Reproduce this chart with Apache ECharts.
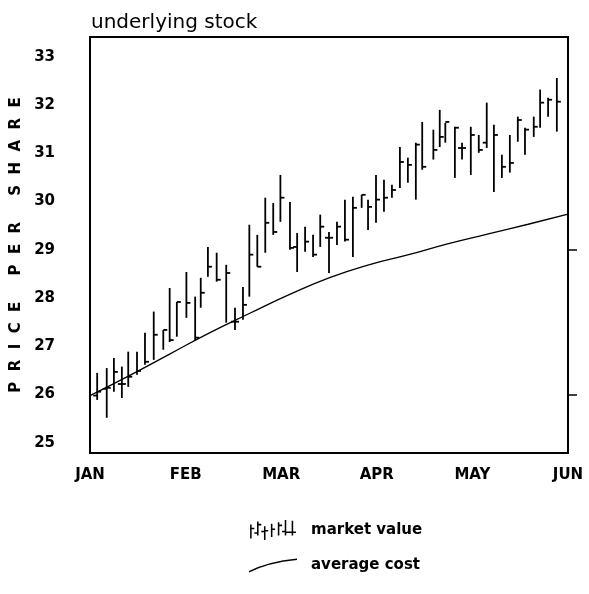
<!DOCTYPE html>
<html>
<head>
<meta charset="utf-8">
<script src="https://cdn.jsdelivr.net/npm/echarts@6/dist/echarts.min.js"></script>
<style>
  html, body { margin: 0; padding: 0; background: #fff; }
  #chart { width: 589px; height: 594px; }
</style>
</head>
<body>
<div id="chart"></div>
<script>
// month labels along the bottom, one every 12 sessions
const months = ['JAN', 'FEB', 'MAR', 'APR', 'MAY', 'JUN'];
const yTicks = [25, 26, 27, 28, 29, 30, 31, 32, 33];
const rightTicks = [26, 29];

// market value bars (session position, open tick, high, low, close tick)
const session = [0.9, 2.1, 3.0, 4.0, 4.8, 5.9, 6.9, 8.0, 9.2, 10.0,
  10.9, 12.1, 13.2, 13.9, 14.8, 15.9, 17.1, 18.2, 19.2, 20.0,
  21.0, 22.0, 23.0, 23.9, 25.1, 26.0, 27.0, 28.0, 28.9, 30.0,
  31.0, 32.0, 33.0, 34.1, 34.9, 35.9, 36.9, 37.9, 38.9, 39.9,
  40.9, 41.7, 43.1, 43.9, 44.6, 45.8, 46.7, 47.8, 48.8, 49.8,
  50.7, 51.7, 52.7, 53.7, 54.6, 55.7, 56.5, 57.5, 58.6];
const high = [26.45, 26.55, 26.76, 26.58, 26.89, 26.89, 27.28, 27.72, 27.34, 28.21,
  27.92, 28.54, 28.03, 28.42, 29.06, 28.94, 28.69, 27.80, 28.23, 29.52,
  29.31, 30.08, 29.97, 30.55, 29.99, 29.35, 29.48, 29.31, 29.73, 29.37,
  29.58, 30.04, 30.10, 30.14, 30.04, 30.55, 30.45, 30.35, 31.13, 30.91,
  31.22, 31.65, 31.49, 31.90, 31.63, 31.55, 31.22, 31.55, 31.38, 32.05,
  31.59, 30.97, 31.38, 31.76, 31.53, 31.76, 32.32, 32.15, 32.56];
const low = [25.89, 25.52, 26.06, 25.93, 26.16, 26.41, 26.62, 26.72, 26.93, 27.09,
  27.20, 27.59, 27.13, 27.80, 28.44, 28.34, 27.49, 27.34, 27.55, 28.03,
  28.65, 28.94, 29.31, 29.58, 29.00, 28.54, 28.96, 28.85, 29.06, 28.52,
  29.10, 29.17, 28.85, 29.87, 29.41, 29.56, 29.79, 30.08, 30.28, 30.39,
  30.04, 30.66, 30.87, 31.13, 31.22, 30.49, 30.87, 30.55, 31.01, 31.11,
  30.20, 30.49, 30.60, 31.24, 30.97, 31.34, 31.53, 31.76, 31.45];
const close = [26.06, 26.14, 26.47, 26.22, 26.37, 26.49, 26.68, 27.24, 27.34, 27.13,
  27.92, 27.90, 27.18, 28.11, 28.65, 28.38, 28.52, 27.51, 27.86, 28.90,
  28.65, 29.56, 29.37, 30.08, 29.04, null, 29.17, 28.90, 29.48, 29.25,
  29.48, 29.21, 29.87, 30.14, 29.89, 30.04, 30.08, 30.24, 30.82, 30.76,
  31.18, 30.72, 31.07, 31.34, 31.65, 31.53, 31.11, 31.38, 31.07, null,
  31.38, 30.72, 30.80, 31.69, 31.49, 31.55, 32.05, 32.11, 32.07];
const open = [25.98, 26.12, null, 26.22, null, null, null, null, null, null,
  null, null, null, null, null, null, null, 27.51, null, null,
  null, null, null, null, null, 29.06, null, null, null, 29.25,
  null, null, null, null, null, null, null, null, null, null,
  null, null, null, null, null, null, 31.11, null, null, 31.22,
  null, null, null, null, null, null, null, null, null];

// average cost curve
const costSession = [0, 5, 10, 15, 20, 25, 30, 35, 40, 45, 50, 55, 60];
const avgCost = [25.98, 26.40, 26.84, 27.28, 27.68, 28.07, 28.42, 28.69, 28.90, 29.13, 29.33, 29.53, 29.74];

const font = 'DejaVu Sans';
const ohlcIcon = 'path://M0,6h2v18h-2zM2,10h3.5v2h-3.5z' +
  'M9,2h2v18h-2zM11,5h3.5v2h-3.5zM5.5,16h3.5v2h-3.5z' +
  'M18,8h2v18h-2zM14.5,14h3.5v2h-3.5zM20,13h3.5v2h-3.5z' +
  'M27,5h2v17h-2zM29,11h3.5v2h-3.5z' +
  'M36,3h2v17h-2zM38,6h3.5v2h-3.5z' +
  'M45,0h2v20h-2zM41.5,14h3.5v2h-3.5z' +
  'M54,1h2v19h-2zM47,15h7v2h-7zM56,15h3.5v2h-3.5z';
const curveIcon = 'path://M0,19Q20,9 50,6L50,7.4Q20,10.4 0,20.4z';

const barData = session.map((s, i) => [
  s,
  open[i] == null ? '-' : open[i],
  high[i],
  low[i],
  close[i] == null ? '-' : close[i]
]);

let myChart = echarts.init(document.getElementById('chart'));
let option = {
  backgroundColor: '#fff',
  animation: false,
  title: {
    text: 'underlying stock',
    left: 86,
    top: 8,
    textStyle: { color: '#000', fontFamily: font, fontSize: 20, fontWeight: 'normal' }
  },
  legend: {
    orient: 'vertical',
    left: 244,
    top: 515,
    itemWidth: 48,
    itemHeight: 20,
    itemGap: 18,
    textStyle: { color: '#000', fontFamily: font, fontSize: 15, fontWeight: 'bold', padding: [0, 0, 0, 9] },
    data: [
      { name: 'market value', icon: ohlcIcon },
      { name: 'average cost', icon: curveIcon }
    ]
  },
  grid: {
    left: 90,
    right: 21,
    top: 37,
    bottom: 141,
    show: true,
    borderColor: '#000',
    borderWidth: 2
  },
  xAxis: {
    type: 'value',
    min: 0,
    max: 60,
    interval: 12,
    axisLine: { show: false },
    axisTick: { show: false },
    splitLine: { show: false },
    axisLabel: {
      color: '#000',
      fontFamily: font,
      fontSize: 15,
      fontWeight: 'bold',
      margin: 15,
      formatter: v => months[Math.round(v / 12)]
    }
  },
  yAxis: [{
    type: 'value',
    min: 24.79,
    max: 33.41,
    name: 'P  R  I  C  E     P  E  R     S  H  A  R  E',
    nameLocation: 'middle',
    nameGap: 62,
    nameTextStyle: { color: '#000', fontFamily: font, fontSize: 15, fontWeight: 'bold' },
    axisLine: { show: false },
    axisTick: { show: false },
    splitLine: { show: false },
    axisLabel: {
      customValues: yTicks,
      color: '#000',
      fontFamily: font,
      fontSize: 15,
      fontWeight: 'bold',
      margin: 35
    }
  }, {
    type: 'value',
    position: 'right',
    min: 24.79,
    max: 33.41,
    axisLine: { show: false },
    splitLine: { show: false },
    axisLabel: { show: false },
    axisTick: {
      show: true,
      customValues: rightTicks,
      length: 9,
      lineStyle: { color: '#000', width: 1.5 }
    }
  }],
  series: [{
    name: 'market value',
    type: 'custom',
    itemStyle: { color: '#000' },
    dimensions: ['session', 'open', 'high', 'low', 'close'],
    encode: { x: 0, y: [2, 3] },
    data: barData,
    renderItem: function (params, api) {
      let x = api.value(0);
      let top = api.coord([x, api.value(2)]);
      let bottom = api.coord([x, api.value(3)]);
      let style = { stroke: '#000', lineWidth: 1.8 };
      let children = [{
        type: 'line',
        shape: { x1: top[0], y1: top[1], x2: bottom[0], y2: bottom[1] },
        style: style
      }];
      let o = api.value(1);
      let c = api.value(4);
      if (!isNaN(o)) {
        let p = api.coord([x, o]);
        children.push({ type: 'line', shape: { x1: p[0] - 4, y1: p[1], x2: p[0], y2: p[1] }, style: style });
      }
      if (!isNaN(c)) {
        let p = api.coord([x, c]);
        children.push({ type: 'line', shape: { x1: p[0], y1: p[1], x2: p[0] + 4, y2: p[1] }, style: style });
      }
      return { type: 'group', children: children };
    }
  }, {
    name: 'average cost',
    type: 'line',
    smooth: true,
    symbol: 'none',
    itemStyle: { color: '#000' },
    lineStyle: { color: '#000', width: 1.3 },
    data: costSession.map((s, i) => [s, avgCost[i]])
  }]
};
myChart.setOption(option);
</script>
</body>
</html>
